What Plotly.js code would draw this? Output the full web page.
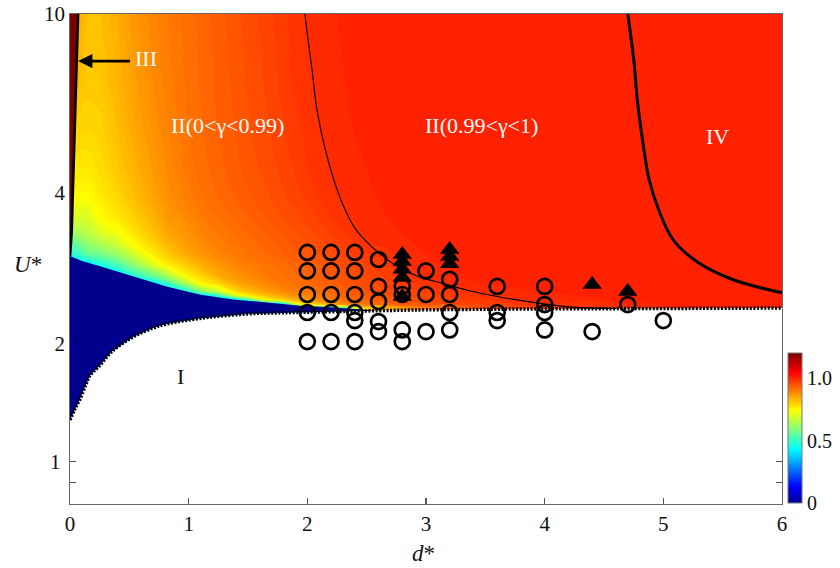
<!DOCTYPE html>
<html><head><meta charset="utf-8">
<script src="https://cdn.plot.ly/plotly-3.0.1.min.js"></script>
<style>html,body{margin:0;padding:0;background:#fff}#plot{width:840px;height:568px}</style>
</head><body><div id="plot"></div>
<script>
// ---- field grid (d*, U*) and gamma values ----
const gridD = [0, 0.05, 0.15, 0.26, 0.4, 0.53, 0.7, 0.82, 1.0, 1.1, 1.25, 1.39, 1.5, 1.66, 1.8, 1.94, 2.1, 2.25, 2.5, 3.0, 3.5, 4.0, 5.0, 6.0];
const gridU = [0.8, 2.2, 2.25, 2.3, 2.35, 2.4, 2.5, 2.6, 2.75, 2.9, 3.05, 3.25, 3.5, 3.9, 4.5, 5.5, 7, 10];
const gammaZ = [
 [0.4,0.4,0.4,0.4,0.4,0.4,0.4,0.38,0.38,0.38,0.38,0.38,0.38,0.38,0.38,0.38,0.4,0.5,0.8,0.9,0.95,0.975,1.0,1.005],
 [0.4,0.4,0.4,0.4,0.4,0.4,0.4,0.38,0.38,0.38,0.38,0.38,0.38,0.38,0.38,0.38,0.4,0.5,0.8,0.9,0.95,0.975,1.0,1.005],
 [0.4,0.4,0.4,0.4,0.4,0.4,0.4,0.38,0.38,0.38,0.38,0.38,0.38,0.38,0.42,0.75,0.82,0.87,0.91,0.952,0.972,0.99,1.005,1.005],
 [0.4,0.4,0.4,0.4,0.4,0.4,0.4,0.38,0.38,0.38,0.38,0.4,0.5,0.74,0.8,0.85,0.88,0.905,0.93,0.96,0.978,0.995,1.005,1.005],
 [0.4,0.4,0.4,0.4,0.4,0.4,0.4,0.38,0.38,0.38,0.48,0.68,0.76,0.82,0.855,0.88,0.905,0.92,0.94,0.966,0.986,0.998,1.005,1.005],
 [0.4,0.4,0.4,0.4,0.4,0.4,0.4,0.38,0.47,0.58,0.68,0.78,0.82,0.855,0.88,0.9,0.915,0.928,0.95,0.972,0.992,1.0,1.005,1.005],
 [0.4,0.4,0.4,0.4,0.4,0.4,0.4,0.5,0.66,0.75,0.79,0.845,0.865,0.885,0.904,0.915,0.927,0.938,0.956,0.984,1.0,1.005,1.005,1.005],
 [0.4,0.4,0.4,0.4,0.4,0.47,0.56,0.64,0.76,0.79,0.84,0.865,0.88,0.901,0.911,0.921,0.934,0.945,0.962,0.993,1.005,1.005,1.005,1.005],
 [0.4,0.4,0.4,0.46,0.52,0.6,0.7,0.76,0.81,0.835,0.865,0.885,0.897,0.908,0.918,0.928,0.939,0.95,0.968,0.998,1.005,1.005,1.005,1.005],
 [0.46,0.48,0.55,0.57,0.62,0.68,0.76,0.803,0.846,0.866,0.886,0.9,0.909,0.92,0.93,0.94,0.95,0.96,0.978,1.0,1.005,1.005,1.005,1.005],
 [0.53,0.55,0.61,0.64,0.68,0.742,0.792,0.825,0.862,0.877,0.894,0.906,0.914,0.925,0.935,0.945,0.955,0.966,0.986,1.003,1.005,1.005,1.005,1.005],
 [0.63,0.635,0.66,0.7,0.735,0.772,0.815,0.85,0.873,0.888,0.902,0.913,0.921,0.933,0.943,0.952,0.963,0.975,0.993,1.005,1.005,1.005,1.005,1.005],
 [0.7,0.695,0.7,0.745,0.768,0.795,0.832,0.862,0.884,0.898,0.911,0.921,0.929,0.94,0.95,0.959,0.971,0.983,0.997,1.005,1.005,1.005,1.005,1.005],
 [0.75,0.745,0.745,0.768,0.79,0.818,0.85,0.875,0.896,0.908,0.92,0.93,0.938,0.948,0.958,0.968,0.98,0.99,0.999,1.005,1.005,1.005,1.005,1.005],
 [0.775,0.77,0.77,0.785,0.808,0.83,0.862,0.882,0.905,0.914,0.926,0.936,0.944,0.954,0.964,0.975,0.986,0.993,1.0,1.005,1.005,1.005,1.005,1.005],
 [0.805,0.795,0.79,0.795,0.82,0.845,0.872,0.888,0.91,0.918,0.93,0.94,0.948,0.958,0.969,0.979,0.99,0.996,1.003,1.005,1.005,1.005,1.005,1.005],
 [0.835,0.825,0.805,0.81,0.83,0.855,0.88,0.895,0.913,0.921,0.933,0.943,0.951,0.962,0.974,0.985,0.993,0.998,1.005,1.005,1.005,1.005,1.005,1.005],
 [0.855,0.845,0.82,0.82,0.84,0.865,0.885,0.9,0.915,0.923,0.935,0.946,0.954,0.965,0.977,0.988,0.996,1.0,1.005,1.005,1.005,1.005,1.005,1.005]
];

// ---- region boundaries ----
const bndD = [0, 0.04, 0.084, 0.13, 0.17, 0.25, 0.35, 0.53, 0.7, 0.81, 1.09, 1.51, 1.9, 2.6, 3.0, 4.0, 5.0, 6.0];
const bndU = [1.24, 1.31, 1.38, 1.48, 1.56, 1.64, 1.76, 1.90, 1.99, 2.03, 2.09, 2.14, 2.155, 2.175, 2.185, 2.195, 2.2, 2.205];
const zeroD = [0, 0.05, 0.1, 0.26, 0.4, 0.55, 0.82, 1.1, 1.39, 1.66, 1.94, 2.23, 2.6];
const zeroU = [2.88, 2.85, 2.81, 2.73, 2.66, 2.59, 2.46, 2.36, 2.30, 2.27, 2.23, 2.21, 2.175];
const g99D = [1.98, 2.0, 2.04, 2.08, 2.15, 2.25, 2.33, 2.41, 2.6, 2.77, 2.94, 3.15, 3.34, 3.6, 4.01, 4.29, 4.6];
const g99U = [10, 9, 7.5, 6.13, 5.0, 4.06, 3.6, 3.3, 2.93, 2.72, 2.59, 2.5, 2.42, 2.34, 2.25, 2.21, 2.2];
const ivD = [4.70, 4.75, 4.78, 4.82, 4.88, 4.96, 5.08, 5.29, 5.59, 6.0];
const ivU = [10, 7.93, 6.45, 5.33, 4.27, 3.66, 3.14, 2.79, 2.55, 2.385];
const iiiD = [0.068, 0.058, 0.045, 0.028, 0.014, 0.0];
const iiiU = [10, 7.9, 6.0, 4.0, 3.25, 2.88];

// ---- experiments ----
const circD = [2.0,2.0,2.0,2.0,2.0, 2.2,2.2,2.2,2.2,2.2, 2.4,2.4,2.4,2.4,2.4,2.4, 2.6,2.6,2.6,2.6,2.6, 2.8,2.8,2.8,2.8, 3.0,3.0,3.0, 3.2,3.2,3.2,3.2, 3.6,3.6,3.6, 4.0,4.0,4.0,4.0, 4.4, 4.7, 5.0];
const circU = [2.935,2.668,2.364,2.155,1.856, 2.935,2.668,2.364,2.155,1.856, 2.935,2.668,2.364,2.155,2.067,1.856, 2.83,2.464,2.28,2.057,1.954, 2.464,2.364,1.97,1.856, 2.668,2.364,1.954, 2.555,2.364,2.155,1.97, 2.464,2.155,2.067, 2.464,2.245,2.155,1.97, 1.954, 2.245, 2.067];
const triD = [2.8,2.8,2.8,2.8,2.8, 3.2,3.2,3.2, 4.4, 4.7];
const triU = [2.905,2.8,2.69,2.58,2.34, 2.98,2.875,2.77, 2.49, 2.40];

const serif = 'Liberation Serif';
const rev = a => a.slice().reverse();
const L = Math.log10;
const nLow = bndD.filter(v => v <= 2.6).length;

const traces = [
  {type:'contour', x:gridD, y:gridU, z:gammaZ, zmin:0, zmax:1.2, zauto:false,
   colorscale:[[0,'#00008c'],[0.11,'#0000ff'],[0.36,'#00ffff'],[0.62,'#ffff00'],[0.87,'#ff0000'],[1,'#800000']],
   contours:{coloring:'fill', start:0, end:1.2, size:0.01, showlines:false},
   line:{width:0}, hoverinfo:'skip',
   colorbar:{x:1.0084, xanchor:'left', xpad:0, thickness:14, len:0.306, lenmode:'fraction',
     y:0.002, yanchor:'bottom', ypad:0, outlinewidth:1, outlinecolor:'#777',
     tickvals:[0,0.5,1.0], ticktext:['0','0.5','1.0'], ticks:'',
     tickfont:{family:serif, size:20, color:'#111'}}},
  // region I (white)
  {x:bndD.concat([6,0]), y:bndU.concat([0.7,0.7]), mode:'lines', fill:'toself',
   fillcolor:'#ffffff', line:{width:0}, hoverinfo:'skip'},
  // gamma = 0 (dark blue)
  {x:zeroD.concat(rev(bndD.slice(0,nLow))), y:zeroU.concat(rev(bndU.slice(0,nLow))),
   mode:'lines', fill:'toself', fillcolor:'#00008c', line:{width:0}, hoverinfo:'skip'},
  // region III
  {x:iiiD.concat([0]), y:iiiU.concat([10]), mode:'lines', fill:'toself', fillcolor:'#7a0000',
   line:{width:0}, hoverinfo:'skip'},
  {x:iiiD, y:iiiU, mode:'lines', line:{color:'#000', width:2.6}, hoverinfo:'skip'},
  // boundary of region I
  {x:bndD, y:bndU, mode:'lines', line:{color:'#000', width:3.5, dash:'2px,1.6px', shape:'spline'}, hoverinfo:'skip'},
  // gamma = 0.99
  {x:g99D, y:g99U, mode:'lines', line:{color:'#000', width:1.1, shape:'spline'}, hoverinfo:'skip'},
  // region IV boundary
  {x:ivD, y:ivU, mode:'lines', line:{color:'#000', width:3, shape:'spline'}, hoverinfo:'skip'},
  // experiments
  {x:circD, y:circU, mode:'markers', marker:{symbol:'circle-open', size:15, color:'#000', line:{width:2.7, color:'#000'}}, hoverinfo:'skip'},
  {x:triD, y:triU, mode:'markers', marker:{symbol:'triangle-up', size:17, color:'#000', line:{width:0}}, hoverinfo:'skip'},
  // carrier for the secondary y axis labels
  {x:[0], y:[1], yaxis:'y2', mode:'markers', marker:{opacity:0}, hoverinfo:'skip'}
];

const yr = [L(0.805), 1];
const tickFont = {family:serif, size:21, color:'#111'};
const labelFont = {family:serif, size:22, color:'#fff'};
const layout = {
  width:840, height:568, margin:{l:70, r:56, t:14, b:64},
  paper_bgcolor:'#fff', plot_bgcolor:'#fff', showlegend:false,
  xaxis:{range:[0,6], tickvals:[0,1,2,3,4,5,6], ticks:'inside', ticklen:6, tickcolor:'#555', tickwidth:1.2,
    showline:true, linecolor:'#666', linewidth:1.3, mirror:true, showgrid:false, zeroline:false,
    tickfont:tickFont},
  yaxis:{type:'log', range:yr, tickvals:[0.9,1], ticktext:['','1'], ticks:'inside', ticklen:6, tickcolor:'#555', tickwidth:1.2,
    showline:true, linecolor:'#666', linewidth:1.3, mirror:'ticks', showgrid:false, zeroline:false,
    tickfont:tickFont, ticklabelstandoff:4},
  yaxis2:{type:'log', range:yr, overlaying:'y', side:'left', tickvals:[1.84,4,10], ticktext:['2','4','10'], ticks:'',
    showline:false, showgrid:false, zeroline:false, tickfont:tickFont, ticklabelstandoff:4},
  annotations:[
    {xref:'x', yref:'y', x:0.068, y:L(7.85), ax:0.53, ay:L(7.85), axref:'x', ayref:'y', text:' ', showarrow:true,
     arrowhead:2, arrowsize:1.1, arrowwidth:2.6, arrowcolor:'#000'},
    {xref:'x', yref:'y', x:0.64, y:L(7.95), text:'III', showarrow:false, font:labelFont},
    {xref:'x', yref:'y', x:1.33, y:0.7517, text:'II(0<γ<0.99)', showarrow:false, font:labelFont},
    {xref:'x', yref:'y', x:3.47, y:0.7517, text:'II(0.99<γ<1)', showarrow:false, font:labelFont},
    {xref:'x', yref:'y', x:5.46, y:0.727, text:'IV', showarrow:false, font:labelFont},
    {xref:'x', yref:'y', x:0.933, y:0.19, text:'I', showarrow:false, font:{family:serif, size:22, color:'#111'}},
    {xref:'paper', yref:'paper', x:-0.0588, y:0.488, xanchor:'center', yanchor:'middle', text:'<i>U</i>*', showarrow:false, font:{family:serif, size:23, color:'#111'}},
    {xref:'paper', yref:'paper', x:0.497, y:-0.1, xanchor:'center', yanchor:'middle', text:'<i>d</i>*', showarrow:false, font:{family:serif, size:23, color:'#111'}}
  ]
};
Plotly.newPlot('plot', traces, layout, {staticPlot:true, displayModeBar:false});
</script></body></html>
